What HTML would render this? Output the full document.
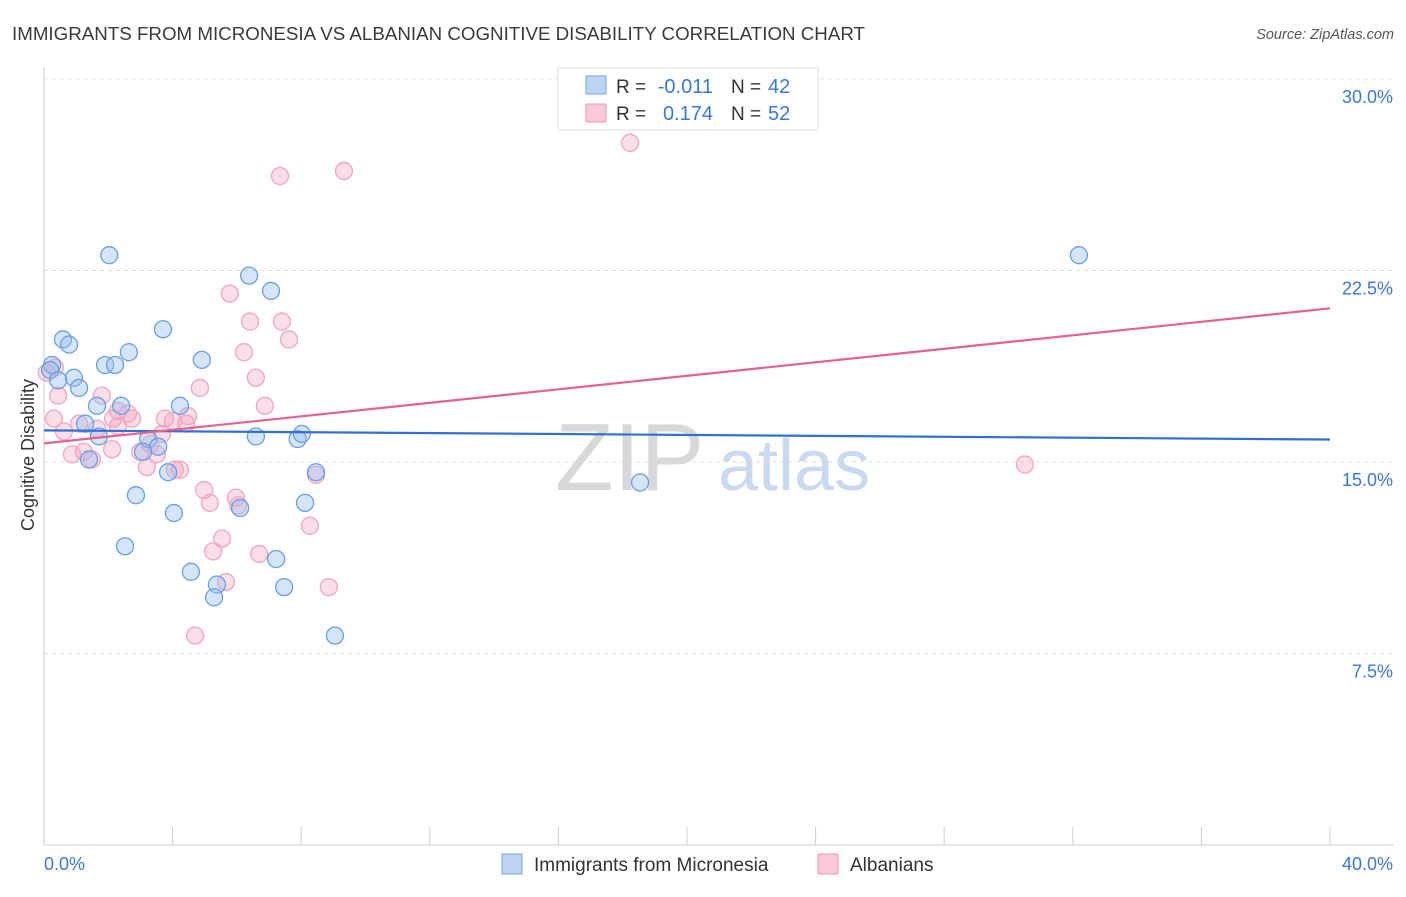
<!DOCTYPE html>
<html><head><meta charset="utf-8"><style>
body{margin:0;background:#fff;font-family:"Liberation Sans",sans-serif;}
svg text{font-family:"Liberation Sans",sans-serif;}
</style></head><body>
<svg id="chart" width="1406" height="892">
<text x="12" y="40" font-size="18" fill="#3a3a3a" textLength="853" lengthAdjust="spacingAndGlyphs">IMMIGRANTS FROM MICRONESIA VS ALBANIAN COGNITIVE DISABILITY CORRELATION CHART</text>
<text x="1394" y="39" font-size="14.5" fill="#555" font-style="italic" text-anchor="end">Source: ZipAtlas.com</text>
<text x="555" y="490" font-size="96" fill="#d8d8d8" font-family="Liberation Serif">ZIP</text>
<text x="718" y="490" font-size="72" fill="#c9d9ef">atlas</text>
<g id="grid"></g>
<g id="axes"></g>
<g id="marks"></g>
<text transform="translate(34,455) rotate(-90)" font-size="18" fill="#333" text-anchor="middle">Cognitive Disability</text>
<g>
<rect x="558" y="68" width="260" height="62" fill="#fff" stroke="#ddd"/>
<rect x="586" y="76" width="20" height="18" fill="#bcd4f4" stroke="#7aa6e6"/>
<text x="616" y="93" font-size="19" fill="#333">R =</text>
<text x="713" y="93" font-size="20" fill="#3a78d8" text-anchor="end">-0.011</text>
<text x="731" y="93" font-size="19" fill="#333">N =</text>
<text x="768" y="93" font-size="20" fill="#3a78d8">42</text>
<rect x="586" y="104" width="20" height="18" fill="#f9c9d7" stroke="#ee9ab3"/>
<text x="616" y="120" font-size="19" fill="#333">R =</text>
<text x="713" y="120" font-size="20" fill="#3a78d8" text-anchor="end">0.174</text>
<text x="731" y="120" font-size="19" fill="#333">N =</text>
<text x="768" y="120" font-size="20" fill="#3a78d8">52</text>
</g>
<g>
<rect x="502" y="854" width="20" height="20" fill="#bcd4f4" stroke="#7aa6e6"/>
<text x="534" y="871" font-size="19" fill="#333">Immigrants from Micronesia</text>
<rect x="818" y="854" width="20" height="20" fill="#f9c9d7" stroke="#ee9ab3"/>
<text x="850" y="871" font-size="19" fill="#333">Albanians</text>
</g>
</svg>
<script>
const xTicks=[0,4,8,12,16,20,24,28,32,36,40];
const yTicks=[7.5,15,22.5,30];
const yTickLabels=["7.5%","15.0%","22.5%","30.0%"];
const blueX=[2.03,6.38,7.06,3.70,0.59,0.78,2.64,1.90,2.21,4.91,0.25,0.19,0.93,0.44,1.09,1.65,2.40,4.23,1.28,1.71,3.24,3.55,3.08,1.40,6.59,7.89,8.02,8.46,3.86,2.86,8.12,6.10,4.04,2.52,7.22,4.57,5.38,5.29,7.47,9.05,18.54,32.19];
const blueY=[23.1,22.3,21.7,20.2,19.8,19.6,19.3,18.8,18.8,19.0,18.8,18.6,18.3,18.2,17.9,17.2,17.2,17.2,16.5,16.0,15.9,15.6,15.4,15.1,16.0,15.9,16.1,14.6,14.6,13.7,13.4,13.2,13.0,11.7,11.2,10.7,10.2,9.7,10.1,8.2,14.2,23.1];
const pinkX=[18.23,9.33,7.34,5.78,6.41,7.40,7.62,6.22,6.59,4.85,0.34,0.09,0.44,1.80,0.31,1.09,0.62,1.65,2.15,2.30,2.61,2.74,2.30,3.76,4.01,4.42,4.48,3.67,3.30,2.99,3.51,2.12,1.24,0.87,1.49,3.20,4.07,4.23,8.46,4.98,5.16,5.97,6.04,8.27,5.54,5.26,6.69,5.66,8.86,4.70,30.51,6.87];
const pinkY=[27.5,26.4,26.2,21.6,20.5,20.5,19.8,19.3,18.3,17.9,18.7,18.5,17.6,17.6,16.7,16.5,16.2,16.3,16.7,17.0,16.9,16.7,16.4,16.7,16.6,16.5,16.8,16.1,15.7,15.4,15.3,15.5,15.4,15.3,15.1,14.8,14.7,14.7,14.5,13.9,13.4,13.6,13.3,12.5,12.0,11.5,11.4,10.3,10.1,8.2,14.9,17.2];
const blueLine=[16.24,15.88];
const pinkLine=[15.73,21.02];
const NS="http://www.w3.org/2000/svg";
const X0=44,X1=1330,YB=845,YT=79;
function sx(v){return X0+(v/40)*(X1-X0);}
function sy(v){return YB-(v/30)*(YB-YT);}
function mk(tag,attrs,parent){const e=document.createElementNS(NS,tag);for(const k in attrs)e.setAttribute(k,attrs[k]);parent.appendChild(e);return e;}
const grid=document.getElementById('grid'),axes=document.getElementById('axes'),marks=document.getElementById('marks');
yTicks.forEach((t,i)=>{
 const l=mk('line',{x1:X0,x2:1394,y1:sy(t),y2:sy(t),stroke:'#ddd','stroke-dasharray':'4,4'},grid);
 
 
 const tx=mk('text',{x:1393,y:sy(t)+24,'font-size':18,fill:'#3a78d8','text-anchor':'end'},axes);
 tx.textContent=yTickLabels[i];
 
 
});
const ya=mk('line',{x1:X0,x2:X0,y1:67,y2:YB,stroke:'#ccc'},axes);


const xa=mk('line',{x1:X0,x2:1394,y1:YB,y2:YB,stroke:'#ccc'},axes);


xTicks.forEach(t=>{
 const l=mk('line',{x1:sx(t),x2:sx(t),y1:YB-18,y2:YB,stroke:'#ccc'},axes);
 
 
});
const xl0=mk('text',{x:44,y:870,'font-size':18,fill:'#3a78d8'},axes);xl0.textContent='0.0%';


const xl1=mk('text',{x:1393,y:870,'font-size':18,fill:'#3a78d8','text-anchor':'end'},axes);xl1.textContent='40.0%';


pinkX.forEach((v,i)=>{
 const c=mk('circle',{cx:sx(v),cy:sy(pinkY[i]),r:8.5,fill:'rgba(244,160,190,0.35)',stroke:'#f0a6be','stroke-width':1.3},marks);
 
 
});
blueX.forEach((v,i)=>{
 const c=mk('circle',{cx:sx(v),cy:sy(blueY[i]),r:8.5,fill:'rgba(150,190,240,0.4)',stroke:'#6a9fe4','stroke-width':1.3},marks);
 
 
});
const bl=mk('line',{x1:sx(0),x2:sx(40),y1:sy(blueLine[0]),y2:sy(blueLine[1]),stroke:'#2f6fd6','stroke-width':2.2},marks);


const pl=mk('line',{x1:sx(0),x2:sx(40),y1:sy(pinkLine[0]),y2:sy(pinkLine[1]),stroke:'#e4628e','stroke-width':2.2},marks);


</script>
</body></html>
